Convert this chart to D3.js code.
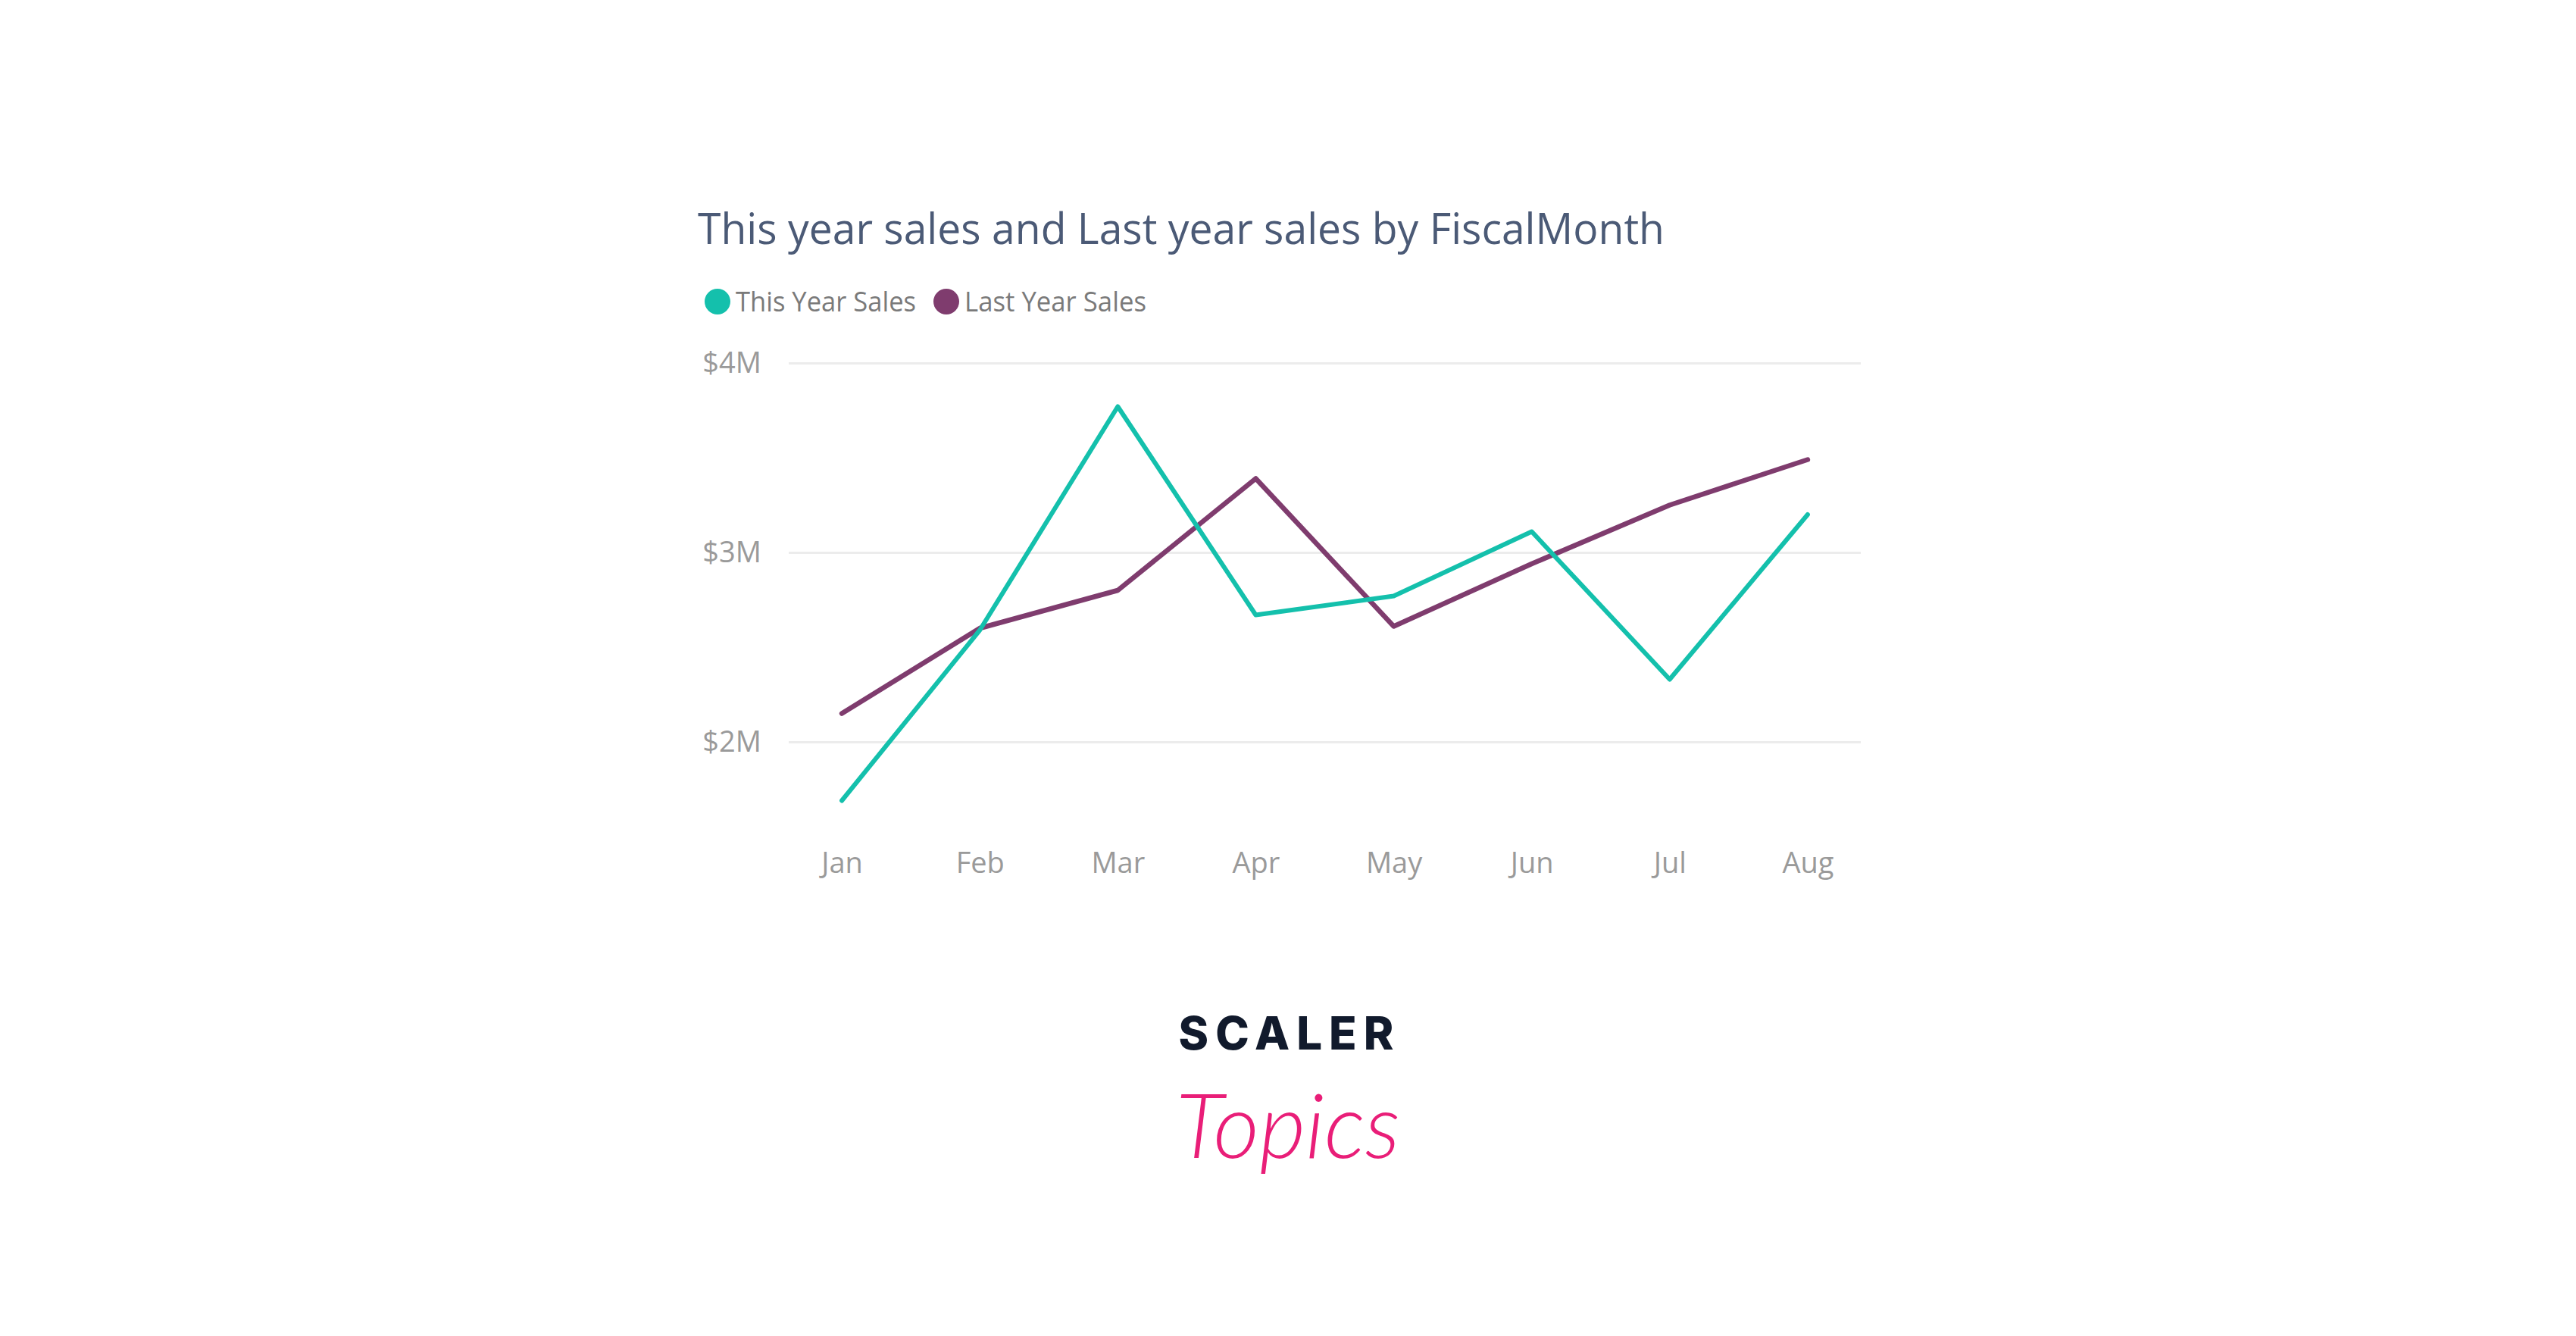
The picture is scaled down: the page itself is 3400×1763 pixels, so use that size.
<!DOCTYPE html>
<html>
<head>
<meta charset="utf-8">
<script src="https://cdn.jsdelivr.net/npm/d3@7"></script>
<style>
  html, body { margin: 0; padding: 0; background: #ffffff; }
  svg { display: block; }
</style>
</head>
<body>
<svg id="chart" width="3400" height="1763"></svg>
<script>
const months = ["Jan", "Feb", "Mar", "Apr", "May", "Jun", "Jul", "Aug"];
const thisYearSales = [1.69e6, 2.59e6, 3.77e6, 2.67e6, 2.77e6, 3.11e6, 2.33e6, 3.20e6];
const lastYearSales = [2.15e6, 2.60e6, 2.80e6, 3.39e6, 2.61e6, 2.94e6, 3.25e6, 3.49e6];
const yTicks = [2e6, 3e6, 4e6];
const yTickLabels = ["$2M", "$3M", "$4M"];
const seriesNames = ["This Year Sales", "Last Year Sales"];
const titleText = "This year sales and Last year sales by FiscalMonth";

const colors = ["#14c0ac", "#7f3c6e"];
const font = "'Open Sans', 'Noto Sans', sans-serif";

const svg = d3.select("#chart");

const x = d3.scalePoint().domain(months).range([1041, 2456]).padding(0.385);
const y = d3.scaleLinear().domain([2e6, 4e6]).range([979, 479]);

// Title
svg.append("text")
  .attr("x", 921).attr("y", 322)
  .attr("font-family", font)
  .attr("font-size", 56)
  .attr("fill", "#4b5a76")
  .attr("textLength", 1276)
  .attr("lengthAdjust", "spacingAndGlyphs")
  .text(titleText);

// Legend
const legendX = [947, 1249];
seriesNames.forEach((name, i) => {
  svg.append("circle")
    .attr("cx", legendX[i]).attr("cy", 398).attr("r", 17)
    .attr("fill", colors[i]);
  svg.append("text")
    .attr("x", legendX[i] + 24).attr("y", 411)
    .attr("font-family", font)
    .attr("font-size", 37)
    .attr("fill", "#7a7a7a")
    .attr("textLength", i === 0 ? 238 : 240)
    .attr("lengthAdjust", "spacingAndGlyphs")
    .text(name);
});

// Gridlines and y axis
const yAxis = d3.axisLeft(y)
  .tickValues(yTicks)
  .tickFormat((d, i) => yTickLabels[i])
  .tickSize(-(2456 - 1041))
  .tickPadding(36);
const yg = svg.append("g").attr("transform", "translate(1041,0)").call(yAxis);
yg.select(".domain").remove();
yg.selectAll(".tick line").attr("stroke", "#ececec").attr("stroke-width", 3);
yg.selectAll(".tick text")
  .attr("font-family", font)
  .attr("font-size", 38)
  .attr("fill", "#9a9a9a")
  .attr("dy", "0.34em");

// X axis
const xAxis = d3.axisBottom(x).tickSize(0).tickPadding(0);
const xg = svg.append("g").attr("transform", "translate(0,1125)").call(xAxis);
xg.select(".domain").remove();
xg.selectAll(".tick text")
  .attr("font-family", font)
  .attr("font-size", 38)
  .attr("fill", "#9a9a9a")
  .attr("dy", "0.71em");

// Lines
const line = d3.line()
  .x((d, i) => x(months[i]))
  .y(d => y(d));

svg.append("path")
  .datum(lastYearSales)
  .attr("d", line)
  .attr("fill", "none")
  .attr("stroke", colors[1])
  .attr("stroke-width", 6.5)
  .attr("stroke-linejoin", "round")
  .attr("stroke-linecap", "round");

svg.append("path")
  .datum(thisYearSales)
  .attr("d", line)
  .attr("fill", "none")
  .attr("stroke", colors[0])
  .attr("stroke-width", 6)
  .attr("stroke-linejoin", "round")
  .attr("stroke-linecap", "round");

// Logo
svg.append("text")
  .attr("x", 1702).attr("y", 1385)
  .attr("text-anchor", "middle")
  .attr("font-family", "'Inter', 'Roboto', sans-serif")
  .attr("font-weight", 800)
  .attr("font-size", 60)
  .attr("letter-spacing", 9)
  .attr("fill", "#111a2c")
  .text("SCALER");

svg.append("text")
  .attr("x", 1700).attr("y", 1528)
  .attr("text-anchor", "middle")
  .attr("font-family", "'Lato', 'Open Sans', sans-serif")
  .attr("font-style", "italic")
  .attr("font-weight", 300)
  .attr("font-size", 118)
  .attr("fill", "#e91e78")
  .text("Topics");
</script>
</body>
</html>
